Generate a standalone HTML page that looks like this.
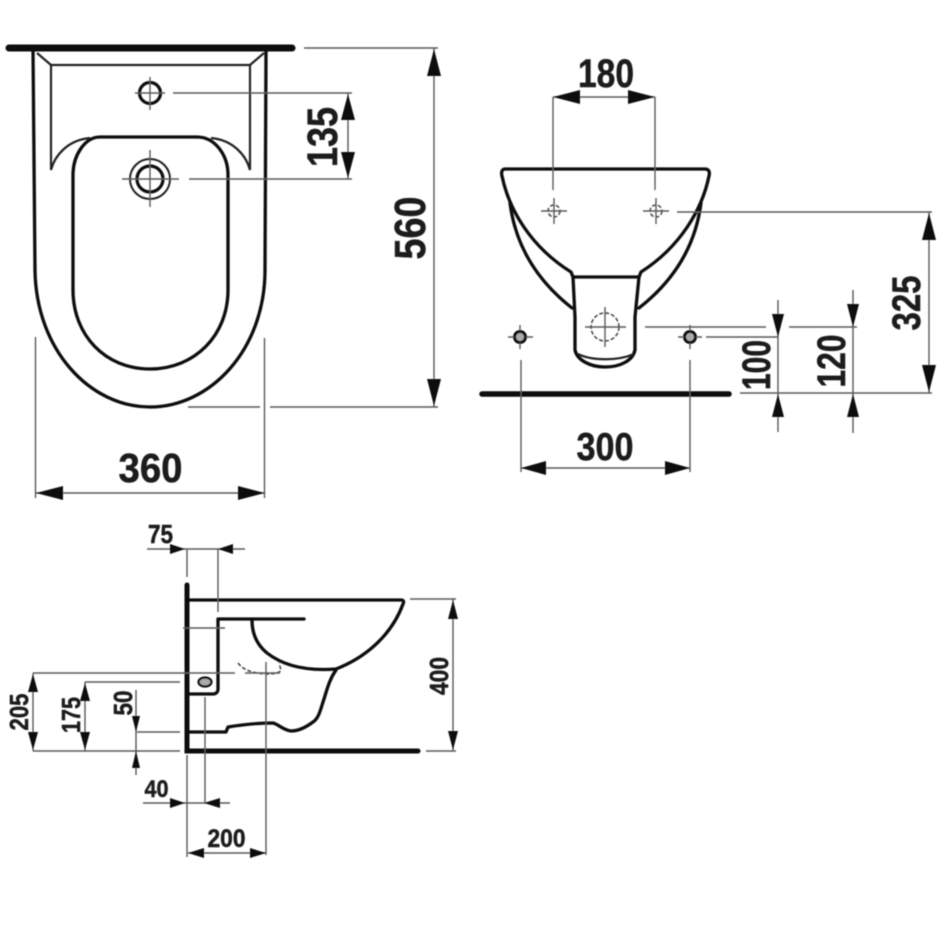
<!DOCTYPE html>
<html><head><meta charset="utf-8"><style>
html,body{margin:0;padding:0;background:#fff;width:950px;height:950px;overflow:hidden}
svg{display:block}
text{font-family:"Liberation Sans",sans-serif;font-weight:bold;fill:#1c1c1c;text-anchor:middle;stroke:#1c1c1c;stroke-width:.5}
.o{fill:none;stroke:#111;stroke-width:3.3;stroke-linejoin:round;stroke-linecap:round}
.t{fill:none;stroke:#222;stroke-width:2.2}
.d{fill:none;stroke:#5a5a5a;stroke-width:1.4}
.w{fill:none;stroke:#0a0a0a;stroke-linecap:round}
.a{fill:#111;stroke:none}
.h{fill:none;stroke:#444;stroke-width:1.5;stroke-dasharray:4 2}
</style></head><body>
<svg width="950" height="950" viewBox="0 0 950 950" xmlns="http://www.w3.org/2000/svg">
<defs><filter id="b" filterUnits="userSpaceOnUse" x="0" y="0" width="950" height="950"><feGaussianBlur stdDeviation="0.45"/></filter></defs>
<rect width="950" height="950" fill="#fff"/>
<g filter="url(#b)">

<!-- TOP VIEW -->
<path class="w" stroke-width="7" d="M9 48H292"/>
<path class="o" d="M33 50L35 270C36 350 90 407 150 407C210 407 265 350 265 270L266 50"/>
<path class="o" d="M100 137H197C215 137 228 155 228 175V290C228 335 195 369 150 369C105 369 73 335 73 290V175C73 155 85 137 100 137Z"/>
<path class="t" d="M37 53L51 65H250L264 53M51 65V170C55 155 68 140 90 138M250 65V170C246 155 233 140 211 138"/>
<circle cx="150" cy="93" r="10.5" fill="none" stroke="#111" stroke-width="3.2"/>
<circle cx="150" cy="179" r="20" fill="none" stroke="#222" stroke-width="2"/>
<circle cx="150" cy="179" r="13" fill="none" stroke="#111" stroke-width="3.2"/>
<path class="d" d="M135 93H165M150 77V110M122 179H179M150 150V207"/>
<path class="d" d="M173 93H352M189 179H352M348 93V179"/>
<path class="a" d="M348 94L341 120H355ZM348 178L341 152H355Z"/>
<text transform="translate(337 137) rotate(-90)" font-size="43" textLength="60" lengthAdjust="spacingAndGlyphs">135</text>
<path class="d" d="M304 48H438M188 407H260M270 407H438M434 48V407"/>
<path class="a" d="M434 49L427 76H441ZM434 406L427 379H441Z"/>
<text transform="translate(425 228) rotate(-90)" font-size="44" textLength="63" lengthAdjust="spacingAndGlyphs">560</text>
<path class="d" d="M35.5 337V498M264.5 338V498M36 493H265"/>
<path class="a" d="M36 493L63 486V500ZM265 493L238 486V500Z"/>
<text x="150.500" y="482" font-size="41" textLength="64" lengthAdjust="spacingAndGlyphs">360</text>

<!-- FRONT VIEW -->
<path class="o" d="M505 169H705C709 169 710 172 709 176C702 210 680 247 641 272L639 277H573L571 272C531 247 509 210 502 176C501 172 502 169 505 169Z"/>
<path class="o" d="M510 203C516 250 540 283 572 308M701 203C695 250 671 283 639 308"/>
<path class="o" d="M573 277L575 317V350C577 360 590 367 605 367C621 367 633 360 635 350V317L639 277"/>
<path class="t" d="M578 354C592 361 618 361 634 354"/>
<path class="d" d="M553 97V190M655 97V190M553 97H655"/>
<path class="a" d="M553 97L580 90V104ZM655 97L628 90V104Z"/>
<text x="606" y="87" font-size="40" textLength="56" lengthAdjust="spacingAndGlyphs">180</text>
<circle class="h" cx="554" cy="211" r="6"/><circle class="h" cx="656" cy="211" r="6"/>
<path class="d" d="M541 211H567M554 198V224M643 211H669M656 198V224"/>
<circle class="h" cx="605" cy="327" r="14"/>
<path class="d" d="M585 327H626M605 307V347"/>
<circle cx="520" cy="337" r="5.500" fill="#aaa" stroke="#111" stroke-width="3"/>
<circle cx="690" cy="337" r="5.500" fill="#aaa" stroke="#111" stroke-width="3"/>
<path class="d" d="M508 337H514M526 337H533M520 325V331M520 343V349M678 337H684M696 337H702M690 325V331M690 343V349"/>
<path class="w" stroke-width="5.500" d="M482 394H729"/>
<path class="d" d="M521 360V472M690 360V472M521 468H690"/>
<path class="a" d="M521 468L546 461V475ZM690 468L665 461V475Z"/>
<text x="605" y="460" font-size="39" textLength="57" lengthAdjust="spacingAndGlyphs">300</text>
<path class="d" d="M677 212H932M740 393H932M929 212V393"/>
<path class="a" d="M929 213L922 240H936ZM929 392L922 365H936Z"/>
<text transform="translate(920 303) rotate(-90)" font-size="40" textLength="55" lengthAdjust="spacingAndGlyphs">325</text>
<path class="d" d="M645 327H766M789 327H857M706 337H778M778 300V432M853 290V433"/>
<path class="a" d="M778 337L772 314H784ZM778 394L772 417H784ZM853 327L847 304H859ZM853 394L847 417H859Z"/>
<text transform="translate(770 365) rotate(-90)" font-size="40" textLength="50" lengthAdjust="spacingAndGlyphs">100</text>
<text transform="translate(845 361) rotate(-90)" font-size="40" textLength="53" lengthAdjust="spacingAndGlyphs">120</text>

<!-- SIDE VIEW -->
<path class="w" stroke-width="5" stroke-linejoin="miter" d="M187 585V751H418"/>
<path class="o" d="M190 600H401C404 600 404 602 403 604C392 634 367 657 336 669C310 671 285 667 267 653C256 644 252 632 252 620"/>
<path class="o" d="M304 619H218V689C218 692 216 694 213 694H190"/>
<path class="o" d="M336 670C329 680 327 690 323 702C320 712 318 719 313 722C305 728 297 731 291 731C283 730 278 724 273 723C258 723 240 725 228 727L226 732H190"/>
<ellipse cx="205" cy="682" rx="6.500" ry="4.500" fill="#aaa" stroke="#111" stroke-width="2.200"/>
<path class="h" d="M238 663C244 671 254 673 266 674C274 674 280 673 281 670L279 663"/>
<path class="d" d="M147 549H245M187 549V577M218 549V612M183 628H225M205 697V803"/>
<path class="a" d="M185 549L170 544V554ZM218 549L233 544V554Z"/>
<text x="160.500" y="543" font-size="26" textLength="25" lengthAdjust="spacingAndGlyphs">75</text>
<path class="d" d="M410 599H456M426 751H456M453 599V751"/>
<path class="a" d="M453 600L448 619H458ZM453 750L448 731H458Z"/>
<text transform="translate(448 676) rotate(-90)" font-size="26" textLength="38" lengthAdjust="spacingAndGlyphs">400</text>
<path class="d" d="M33 673H235M245 673H280M85 682H180M136 690V775M137 732H180M33 751H180M33 673V751M85 682V751"/>
<path class="a" d="M33 674L28 692H38ZM33 750L28 732H38ZM85 683L80 701H90ZM85 750L80 732H90ZM136 732L132 716H140ZM136 751L132 768H140Z"/>
<text transform="translate(28 712) rotate(-90)" font-size="26" textLength="37" lengthAdjust="spacingAndGlyphs">205</text>
<text transform="translate(80 715) rotate(-90)" font-size="26" textLength="36" lengthAdjust="spacingAndGlyphs">175</text>
<text transform="translate(132 703) rotate(-90)" font-size="26" textLength="25" lengthAdjust="spacingAndGlyphs">50</text>
<path class="d" d="M143 803H230M187 755V857M266 662V855M188 853H266"/>
<path class="a" d="M185 803L170 798V808ZM204 803L220 798V808ZM188 853L204 848V858ZM266 853L250 848V858Z"/>
<text x="156.500" y="797" font-size="24" textLength="24" lengthAdjust="spacingAndGlyphs">40</text>
<text x="226.500" y="847" font-size="25" textLength="38" lengthAdjust="spacingAndGlyphs">200</text>
</g>
</svg>
</body></html>
